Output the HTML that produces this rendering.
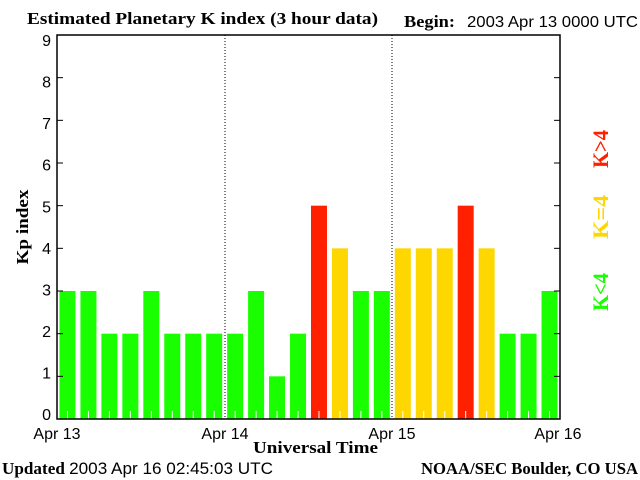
<!DOCTYPE html>
<html><head><meta charset="utf-8"><style>
html,body{margin:0;padding:0;background:#fff;width:640px;height:480px;overflow:hidden}
svg{display:block}
.s{font-family:"Liberation Sans",sans-serif;font-size:16px}
.b{font-family:"Liberation Serif",serif;font-weight:bold;font-size:17px}
.k{font-family:"Liberation Serif",serif;font-weight:bold;font-size:22px}
</style></head><body>
<svg width="640" height="480" xmlns="http://www.w3.org/2000/svg">
<text x="27" y="24" class="b" textLength="351" lengthAdjust="spacingAndGlyphs">Estimated Planetary K index (3 hour data)</text>
<text x="404" y="27" class="b" textLength="51" lengthAdjust="spacingAndGlyphs">Begin:</text>
<text x="467" y="27" class="s" textLength="171" lengthAdjust="spacingAndGlyphs">2003 Apr 13 0000 UTC</text>
<g id="bars"></g>
<line x1="225" y1="35" x2="225" y2="419" stroke="#000" stroke-dasharray="1,2"/>
<line x1="392" y1="35" x2="392" y2="419" stroke="#000" stroke-dasharray="1,2"/>
<rect x="57" y="35" width="503" height="384" fill="none" stroke="#000" stroke-width="1.5"/>
<g id="ticks" stroke="#000"></g>
<g class="s" text-anchor="end" id="yl"></g>
<g class="s" text-anchor="middle">
<text x="57" y="439">Apr 13</text><text x="225" y="439">Apr 14</text><text x="392" y="439">Apr 15</text><text x="558" y="439">Apr 16</text>
</g>
<text x="253" y="453" class="b" textLength="125" lengthAdjust="spacingAndGlyphs">Universal Time</text>
<text transform="translate(28,227) rotate(-90)" class="b" text-anchor="middle" textLength="75" lengthAdjust="spacingAndGlyphs">Kp index</text>
<text transform="translate(608,168) rotate(-90)" class="k" fill="#ff2000" textLength="38" lengthAdjust="spacingAndGlyphs">K&gt;4</text>
<text transform="translate(608,239) rotate(-90)" class="k" fill="#ffd700" textLength="44" lengthAdjust="spacingAndGlyphs">K=4</text>
<text transform="translate(608,311) rotate(-90)" class="k" fill="#1aff00" textLength="38" lengthAdjust="spacingAndGlyphs">K&lt;4</text>
<text x="2" y="474" class="b" textLength="271" lengthAdjust="spacingAndGlyphs">Updated <tspan font-family="Liberation Sans" font-weight="normal">2003 Apr 16 02:45:03 UTC</tspan></text>
<text x="421" y="474" class="b" textLength="217" lengthAdjust="spacingAndGlyphs">NOAA/SEC Boulder, CO USA</text>
</svg>
<script>
var v=[3,3,2,2,3,2,2,2,2,3,1,2,5,4,3,3,4,4,4,5,4,2,2,3];
var ns="http://www.w3.org/2000/svg",g=document.getElementById('bars'),t=document.getElementById('ticks'),yl=document.getElementById('yl');
function el(p,n,a){var e=document.createElementNS(ns,n);for(var k in a)e.setAttribute(k,a[k]);p.appendChild(e);return e;}
var u=384/9;
v.forEach(function(k,i){var x=57+(i+0.5)*503/24;var c=k>4?'#ff2000':(k==4?'#ffd700':'#1aff00');
el(g,'rect',{x:x-8,y:419-k*u,width:16,height:k*u,fill:c});
el(g,'line',{x1:x,y1:411,x2:x,y2:419,stroke:'#fff'});});
for(var i=0;i<=9;i++){var y=419-i*u;el(t,'line',{x1:57,y1:y,x2:63,y2:y});el(t,'line',{x1:554,y1:y,x2:560,y2:y});
var tx=el(yl,'text',{x:51,y:414-i*41.55+6});tx.textContent=i;}
</script>
</body></html>
